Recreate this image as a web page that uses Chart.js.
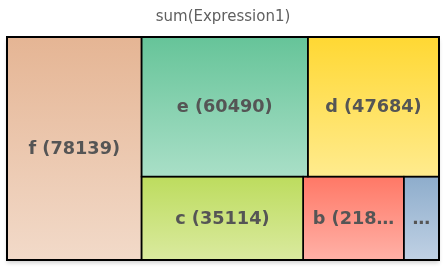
<!DOCTYPE html>
<html>
<head>
<meta charset="utf-8">
<script src="https://cdn.jsdelivr.net/npm/chart.js@4/dist/chart.umd.min.js"></script>
<style>
html,body{margin:0;padding:0;background:#fff;}
#wrap{width:446px;height:267px;}
</style>
</head>
<body>
<div id="wrap"><canvas id="c" width="446" height="267"></canvas></div>
<script>
// ---- data ----
const chartTitle = 'sum(Expression1)';
const categories = ['f', 'e', 'd', 'c', 'b', 'a'];
const values = [78139, 60490, 47684, 35114, 21843, 7640];

// ---- styles (top / bottom of vertical gradient) ----
const topColors = ['#E5B594', '#66C499', '#FFD833', '#BDDC5E', '#FF7866', '#8EADCC'];
const bottomColors = ['#F2DAC9', '#A9DFC7', '#FFEB8E', '#DAEA9F', '#FFB1A7', '#C0D1E4'];

// aspect ratios of a strip laid along a side of length `side`
function ratios(row, side) {
  const s = row.reduce((a, b) => a + b.area, 0);
  const thick = s / side;
  return row.map(r => { const len = side * r.area / s; return Math.max(len / thick, thick / len); });
}
const worstOf = (row, side) => Math.max(...ratios(row, side));
const meanOf = (row, side) => { const r = ratios(row, side); return r.reduce((a, b) => a + b, 0) / r.length; };

function greedy(items, side, score) {
  let row = [items[0]], i = 1;
  while (i < items.length) {
    const next = row.concat([items[i]]);
    if (score(next, side) <= score(row, side)) { row = next; i++; } else break;
  }
  return {row: row, n: i};
}
function placeColumn(row, x, y, h, out) {
  const s = row.reduce((a, b) => a + b.area, 0), tw = s / h;
  let cy = y;
  for (const r of row) { const rh = r.area / tw; out.push({idx: r.idx, x: x, y: cy, w: tw, h: rh}); cy += rh; }
  return tw;
}
function placeRow(row, x, y, w, out) {
  const s = row.reduce((a, b) => a + b.area, 0), th = s / w;
  let cx = x;
  for (const r of row) { const rw = r.area / th; out.push({idx: r.idx, x: cx, y: y, w: rw, h: th}); cx += rw; }
  return th;
}
// first strip: squarified along the shorter side; the rest: horizontal strips
function layout(items, W, H) {
  const out = [];
  let x = 0, y = 0, w = W, h = H;
  const first = greedy(items, Math.min(w, h), worstOf);
  if (w >= h) { const tw = placeColumn(first.row, x, y, h, out); x += tw; w -= tw; }
  else { const th = placeRow(first.row, x, y, w, out); y += th; h -= th; }
  let rest = items.slice(first.n);
  while (rest.length) {
    const g = greedy(rest, w, meanOf);
    const th = placeRow(g.row, x, y, w, out);
    y += th; h -= th;
    rest = rest.slice(g.n);
  }
  return out;
}

const treemapPlugin = {
  id: 'treemapCells',
  beforeDatasetsDraw(chart) {
    const ctx = chart.ctx;
    const xs = chart.scales.x, ys = chart.scales.y;
    const W = chart.chartArea.right - chart.chartArea.left;
    const H = chart.chartArea.bottom - chart.chartArea.top;
    const total = values.reduce((a, b) => a + b, 0);
    const items = values.map((v, i) => ({idx: i, area: v / total * W * H}))
      .sort((a, b) => b.area - a.area);
    const cells = layout(items, W, H);

    const px = v => xs.getPixelForValue(v / W);
    const py = v => ys.getPixelForValue(v / H);

    // outer shadow
    ctx.save();
    ctx.shadowColor = 'rgba(0,0,0,0.18)';
    ctx.shadowBlur = 4;
    ctx.shadowOffsetY = 3;
    ctx.fillStyle = '#fff';
    ctx.fillRect(px(0), py(0), px(W) - px(0), py(H) - py(0));
    ctx.restore();

    for (const c of cells) {
      const x0 = px(c.x), x1 = px(c.x + c.w), y0 = py(c.y), y1 = py(c.y + c.h);
      const g = ctx.createLinearGradient(0, y0, 0, y1);
      g.addColorStop(0, topColors[c.idx]);
      g.addColorStop(1, bottomColors[c.idx]);
      ctx.fillStyle = g;
      ctx.fillRect(x0, y0, x1 - x0, y1 - y0);
    }
    ctx.save();
    ctx.strokeStyle = '#000';
    ctx.lineWidth = 1.5;
    for (const c of cells) {
      const x0 = px(c.x), x1 = px(c.x + c.w), y0 = py(c.y), y1 = py(c.y + c.h);
      ctx.strokeRect(x0, y0, x1 - x0, y1 - y0);
    }
    ctx.lineWidth = 2;
    ctx.strokeRect(px(0), py(0), px(W) - px(0), py(H) - py(0));
    ctx.restore();

    // labels
    ctx.save();
    ctx.font = 'bold 17.7px "DejaVu Sans"';
    ctx.fillStyle = '#555555';
    ctx.textAlign = 'center';
    ctx.textBaseline = 'middle';
    for (const c of cells) {
      const x0 = px(c.x), x1 = px(c.x + c.w), y0 = py(c.y), y1 = py(c.y + c.h);
      const maxW = (x1 - x0) - 16;
      let txt = categories[c.idx] + ' (' + values[c.idx] + ')';
      if (ctx.measureText(txt).width > maxW) {
        let n = txt.length;
        while (n > 0 && ctx.measureText(txt.slice(0, n) + '…').width > maxW) n--;
        txt = n === 0 ? '…' : txt.slice(0, n).trimEnd() + '…';
      }
      ctx.fillText(txt, (x0 + x1) / 2, (y0 + y1) / 2 + 1);
    }
    ctx.restore();
  }
};

new Chart(document.getElementById('c'), {
  type: 'scatter',
  data: { datasets: [{ label: chartTitle, data: [], pointRadius: 0 }] },
  options: {
    responsive: false,
    animation: false,
    layout: { padding: { left: 7, right: 7, bottom: 7, top: 0 } },
    plugins: {
      legend: { display: false },
      tooltip: { enabled: false },
      title: {
        display: true,
        text: chartTitle,
        color: '#606060',
        font: { family: '"DejaVu Sans"', size: 15, weight: 'normal', lineHeight: 1.2 },
        padding: { top: 8, bottom: 11 }
      }
    },
    scales: {
      x: { type: 'linear', min: 0, max: 1, display: false },
      y: { type: 'linear', min: 0, max: 1, reverse: true, display: false }
    }
  },
  plugins: [treemapPlugin]
});
</script>
</body>
</html>
